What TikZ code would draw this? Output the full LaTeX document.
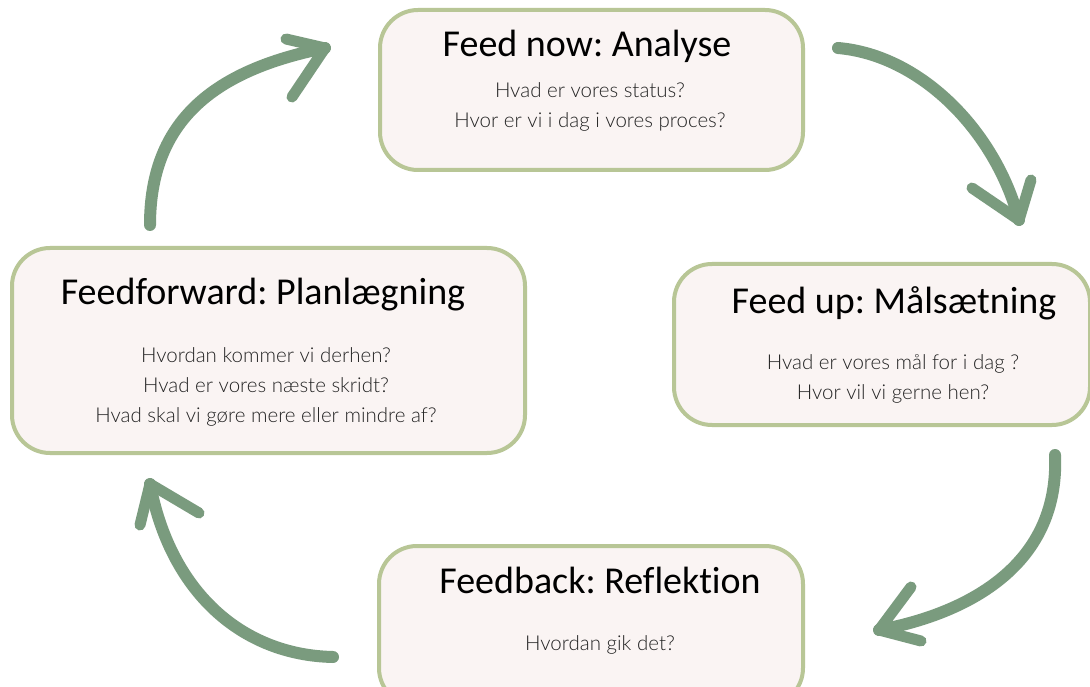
\documentclass[tikz,border=0pt]{standalone}
\usepackage{fontspec}
\setmainfont{Lato}
\newfontfamily\titlefont[Ligatures={NoCommon,NoRare}]{Carlito}
\newfontfamily\bodyfont{Lato Light}
\frenchspacing
\definecolor{arrowgreen}{RGB}{122,155,126}
\definecolor{boxborder}{RGB}{184,198,150}
\definecolor{boxfill}{RGB}{250,244,243}
\definecolor{bodytext}{RGB}{35,35,35}
\tikzset{
  phasebox/.style={draw=boxborder, fill=boxfill, line width=4pt, rounded corners=38pt, inner sep=0pt},
  phasetitle/.style={anchor=base, font=\titlefont\fontsize{38}{44}\selectfont, text=black, inner sep=0pt},
  phasebody/.style={anchor=base, font=\bodyfont\fontsize{20.5}{24}\selectfont, text=bodytext, inner sep=0pt},
  brush/.style={draw=arrowgreen, line width=12pt, line cap=round},
  barb/.style={draw=arrowgreen, line width=11pt, line cap=round},
}
\begin{document}
\begin{tikzpicture}[x=1pt,y=-1pt]
\useasboundingbox[fill=white] (0,0) rectangle (1090,687);

% boxes
\node[phasebox, minimum width=423pt, minimum height=160pt] (now) at (591.5,90) {};
\node[phasebox, minimum width=513pt, minimum height=205pt] (forward) at (268.5,350.5) {};
\node[phasebox, minimum width=416pt, minimum height=161pt] (up) at (882,344.5) {};
\node[phasebox, minimum width=424pt, minimum height=160pt] (back) at (591,626) {};

% texts
\node[phasetitle] (nowT) at (587,57) {Feed now: Analyse};
\node[phasebody] (nowA) at (590,98) {Hvad er vores status?};
\node[phasebody] (nowB) at (590,128) {Hvor er vi i dag i vores proces?};

\node[phasetitle] (forwardT) at (263,305) {Feedforward: Planlægning};
\node[phasebody] (forwardA) at (266,362) {Hvordan kommer vi derhen?};
\node[phasebody] (forwardB) at (266,392) {Hvad er vores næste skridt?};
\node[phasebody] (forwardC) at (266,422) {Hvad skal vi gøre mere eller mindre af?};

\node[phasetitle] (upT) at (894,313) {Feed up: Målsætning};
\node[phasebody] (upA) at (893,369) {Hvad er vores mål for i dag ?};
\node[phasebody] (upB) at (893,399) {Hvor vil vi gerne hen?};

\node[phasetitle] (backT) at (600,593) {Feedback: Reflektion};
\node[phasebody] (backA) at (600,650) {Hvordan gik det?};

% arrow end points
\coordinate (a1s) at (838,48);
\coordinate (a1t) at (1019,220);
\coordinate (a1l) at (972,188);
\coordinate (a1r) at (1031,180);

\coordinate (a2s) at (150,225);
\coordinate (a2t) at (325,48);
\coordinate (a2u) at (286,39);
\coordinate (a2d) at (292,97);

\coordinate (a3s) at (1055,455);
\coordinate (a3t) at (879,630);
\coordinate (a3u) at (911,587);
\coordinate (a3d) at (921,641);

\coordinate (a4s) at (333,657);
\coordinate (a4t) at (150,484);
\coordinate (a4l) at (140,525);
\coordinate (a4r) at (199,513);

% arrows
\draw[brush] (a1s) .. controls (920,55) and (995,130) .. (a1t);
\draw[barb] (a1t) -- (a1l);
\draw[barb] (a1t) -- (a1r);

\draw[brush] (a2s) .. controls (150,120) and (215,70) .. (a2t);
\draw[barb] (a2t) -- (a2u);
\draw[barb] (a2t) -- (a2d);

\draw[brush] (a3s) .. controls (1060,570) and (960,615) .. (a3t);
\draw[barb] (a3t) -- (a3u);
\draw[barb] (a3t) -- (a3d);

\draw[brush] (a4s) .. controls (240,655) and (170,590) .. (a4t);
\draw[barb] (a4t) -- (a4l);
\draw[barb] (a4t) -- (a4r);
\end{tikzpicture}
\end{document}
